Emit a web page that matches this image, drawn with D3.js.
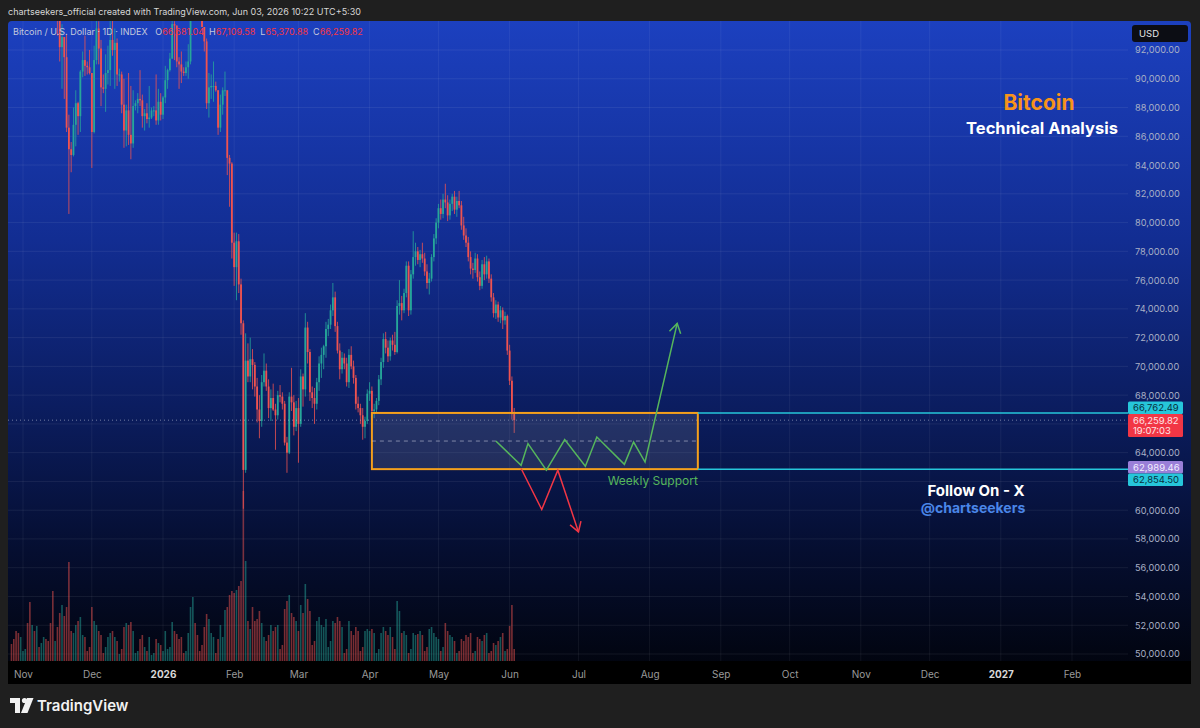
<!DOCTYPE html>
<html>
<head>
<meta charset="utf-8">
<script src="https://cdn.jsdelivr.net/npm/d3@7"></script>
<style>
  body { margin: 0; background: #1f1f1f; }
  svg { display: block; font-family: Inter, "Noto Sans", sans-serif; }
</style>
</head>
<body>
<div id="chart"></div>
<script>
var firstDay = "2025-10-27";

// daily candles: [open, high, low, close] in thousands of USD
var ohlc = [
    // Oct 27 - 31
    [114.5,116.0,113.8,114.1],[114.1,116.1,112.2,112.9],[112.9,113.6,109.3,110.0],[110.0,111.5,106.3,108.3],[108.3,111.1,108.3,109.6],
    // Nov
    [109.6,110.6,109.4,110.1],[110.1,111.2,109.6,110.6],[110.6,110.8,105.3,106.5],[106.5,107.3,98.9,101.5],[101.5,104.5,98.9,103.9],
    [103.9,104.2,100.3,101.3],[101.3,104.0,99.3,103.3],[103.3,103.4,101.4,102.3],[102.3,105.0,101.4,104.7],[104.7,106.6,104.3,105.9],
    [105.9,107.5,102.5,103.0],[103.0,105.3,100.8,101.6],[101.6,104.1,98.0,99.7],[99.7,99.8,94.1,94.5],[94.5,96.8,94.5,95.5],
    [95.5,96.6,93.0,94.2],[94.2,96.0,91.2,92.2],[92.2,93.8,89.3,92.9],[92.9,92.9,88.6,91.5],[91.5,93.1,86.3,86.6],
    [86.6,87.5,80.6,85.1],[85.1,85.6,83.5,84.7],[84.7,88.0,84.6,86.8],[86.8,89.2,85.3,88.3],[88.3,88.4,86.1,87.4],
    [87.4,90.6,86.3,90.5],[90.5,91.9,90.1,91.3],[91.3,93.0,90.2,90.9],[90.9,91.2,90.3,90.8],[90.8,92.0,90.3,90.4],
    // Dec
    [90.4,90.4,83.8,86.3],[86.3,92.3,86.2,91.3],[91.3,94.1,91.0,93.5],[93.5,94.0,91.0,92.1],[92.1,92.7,88.1,89.4],
    [89.4,90.3,89.0,89.3],[89.3,91.7,87.7,90.4],[90.4,92.3,89.6,90.6],[90.6,94.6,89.5,92.7],[92.7,94.4,91.6,92.0],
    [92.0,93.5,89.3,92.5],[92.5,92.8,89.5,90.3],[90.3,90.7,89.8,90.3],[90.3,90.5,87.6,88.2],[88.2,90.0,85.2,86.4],
    [86.4,88.2,85.3,87.8],[87.8,90.4,85.4,86.1],[86.1,89.5,84.4,85.5],[85.5,89.2,85.2,88.1],[88.1,88.5,87.8,88.3],
    [88.3,89.0,87.6,88.6],[88.6,90.6,88.1,88.5],[88.5,88.9,86.6,87.4],[87.4,87.9,86.4,87.6],[87.6,88.3,86.9,87.2],
    [87.2,89.5,86.6,87.3],[87.3,88.0,87.2,87.8],[87.8,88.1,87.4,87.8],[87.8,90.3,86.8,87.1],[87.1,89.3,86.8,88.4],
    [88.4,89.0,87.1,87.5],
    // Jan
    [87.5,88.8,87.2,88.7],[88.7,90.9,88.3,89.9],[89.9,90.7,89.3,90.6],[90.6,91.8,90.5,91.4],[91.4,94.8,91.4,93.8],
    [93.8,94.0,91.3,93.7],[93.7,93.7,90.8,91.2],[91.2,91.5,89.3,91.0],[91.0,91.9,89.7,90.5],[90.5,90.8,90.2,90.4],
    [90.4,91.2,90.2,90.8],[90.8,92.4,90.0,91.2],[91.2,96.2,91.0,95.3],[95.3,97.9,94.8,97.0],[97.0,97.2,95.1,95.6],
    [95.6,95.8,94.3,95.5],[95.5,95.6,94.9,95.1],[95.1,95.4,93.6,93.6],[93.6,93.6,91.9,92.6],[92.6,92.8,87.9,88.3],
    [88.3,90.4,87.3,89.4],[89.4,90.3,88.6,89.5],[89.5,91.2,88.4,89.5],[89.5,89.8,89.1,89.2],[89.2,89.2,86.1,86.6],
    [86.6,88.9,86.3,88.2],[88.2,89.4,87.5,89.2],[89.2,90.5,88.8,89.2],[89.2,89.2,83.3,84.5],[84.5,84.7,81.1,84.1],
    [84.1,84.2,77.5,78.6],
    // Feb
    [78.6,79.3,75.6,76.9],[76.9,79.3,74.6,78.7],[78.7,79.2,75.1,75.7],[75.7,76.1,72.2,73.0],[73.0,73.2,60.1,62.8],
    [62.8,72.3,62.6,70.4],[70.4,71.6,68.9,69.3],[69.3,72.0,68.9,70.5],[70.5,71.2,68.4,70.1],[70.1,70.3,67.9,68.6],
    [68.6,69.2,66.1,67.0],[67.0,68.0,65.0,66.2],[66.2,69.4,65.8,68.9],[68.9,70.9,68.6,69.7],[69.7,70.2,68.3,68.6],
    [68.6,69.1,66.4,67.1],[67.1,68.4,66.2,67.8],[67.8,68.8,66.9,67.0],[67.0,67.4,64.2,66.6],[66.6,68.3,66.3,68.0],
    [68.0,68.7,67.5,67.9],[67.9,68.2,67.0,67.4],[67.4,67.6,64.5,64.7],[64.7,65.1,62.6,64.0],[64.0,68.2,63.9,67.9],
    [67.9,69.9,66.9,67.5],[67.5,68.0,65.2,65.8],[65.8,67.6,65.5,67.1],
    // Mar
    [67.1,67.8,63.3,66.0],[66.0,69.8,65.8,69.3],[69.3,69.5,67.2,68.4],[68.4,73.7,67.9,72.7],[72.7,73.1,70.2,71.0],
    [71.0,71.2,67.6,68.2],[68.2,68.6,67.1,67.8],[67.8,68.5,66.0,67.4],[67.4,69.2,67.0,68.9],[68.9,70.7,68.3,70.2],
    [70.2,71.3,69.2,70.8],[70.8,71.5,69.8,71.4],[71.4,73.1,70.6,72.6],[72.6,73.3,72.1,72.9],[72.9,74.3,72.6,73.9],
    [73.9,75.8,73.5,74.8],[74.8,75.2,72.4,72.8],[72.8,73.1,70.9,71.1],[71.1,71.6,69.1,69.8],[69.8,71.0,69.5,70.6],
    [70.6,70.9,69.8,70.2],[70.2,70.6,68.6,68.9],[68.9,71.2,68.5,70.8],[70.8,71.4,69.8,70.0],[70.0,70.4,68.8,69.2],
    [69.2,69.4,67.0,67.4],[67.4,67.9,66.8,67.1],[67.1,67.4,66.0,66.6],[66.6,67.1,64.9,65.8],[65.8,66.5,65.0,66.2],
    [66.2,68.4,66.0,68.1],
    // Apr
    [68.1,68.9,67.6,68.3],[68.3,68.6,66.5,66.9],[66.9,67.4,66.4,67.0],[67.0,67.8,66.8,67.6],[67.6,69.4,67.3,69.1],
    [69.1,70.6,68.7,70.3],[70.3,72.3,69.9,71.9],[71.9,72.4,70.9,71.3],[71.3,71.8,70.3,70.7],[70.7,72.0,70.4,71.8],
    [71.8,72.2,71.1,71.5],[71.5,72.4,70.8,71.0],[71.0,74.6,70.9,74.2],[74.2,76.0,73.6,74.4],[74.4,74.9,73.2,73.9],
    [73.9,75.4,73.7,75.1],[75.1,77.3,74.8,77.0],[77.0,77.3,73.5,73.9],[73.9,76.7,73.6,76.4],[76.4,79.4,76.1,77.6],
    [77.6,78.6,77.0,78.0],[78.0,78.3,77.1,77.4],[77.4,78.1,76.9,77.8],[77.8,78.6,77.2,77.5],[77.5,77.9,76.3,76.6],
    [76.6,77.1,75.4,75.8],[75.8,76.5,75.0,76.1],[76.1,77.8,75.9,77.6],[77.6,79.2,77.3,78.9],[78.9,80.3,78.5,80.0],
    // May
    [80.0,81.3,79.6,81.0],[81.0,81.6,80.2,80.6],[80.6,82.0,80.3,81.6],[81.6,82.7,81.0,81.4],[81.4,81.9,80.1,80.5],
    [80.5,81.6,80.2,81.3],[81.3,82.0,80.8,81.8],[81.8,82.2,80.6,80.9],[80.9,81.8,80.4,81.5],[81.5,82.2,81.0,81.2],
    [81.2,81.5,79.5,79.8],[79.8,80.4,78.8,79.1],[79.1,79.6,78.3,78.6],[78.6,79.0,77.3,77.6],[77.6,78.0,76.4,76.8],
    [76.8,77.2,76.1,76.7],[76.7,77.9,76.5,77.5],[77.5,77.8,75.9,76.2],[76.2,76.6,75.3,75.6],[75.6,77.4,75.4,77.1],
    [77.1,77.6,76.0,76.4],[76.4,77.7,76.1,77.3],[77.3,77.5,75.8,76.1],[76.1,76.4,74.5,74.8],[74.8,75.1,73.4,73.7],
    [73.7,74.6,73.3,74.3],[74.3,74.5,73.1,73.4],[73.4,74.2,73.0,73.9],[73.9,74.1,72.6,73.2],[73.2,73.8,72.9,73.5],
    [73.5,73.6,70.8,71.1],
    // Jun 1 - 3
    [71.1,71.5,68.7,69.0],[69.0,69.3,66.3,66.68104],[66.68104,67.10958,65.37088,66.25982]
];

// volume, relative units
var volume = [
    17,22,30,28,24,
    10,12,38,59,36,30,35,14,18,24,22,20,38,70,20,34,48,56,45,54,99,30,28,36,40,44,26,24,10,14,
    54,40,36,30,26,8,14,24,28,30,24,20,7,12,34,38,36,39,30,8,10,22,26,14,10,24,6,8,22,18,16,
    10,30,12,14,39,30,27,22,24,8,10,28,54,64,38,26,10,16,34,47,42,28,24,8,22,36,24,51,54,66,70,
    68,71,75,80,170,100,40,32,54,40,42,50,38,24,20,26,36,30,34,36,12,16,52,60,66,48,44,40,
    30,56,48,77,62,50,16,20,40,44,36,34,42,14,20,40,38,44,40,34,8,12,40,30,26,34,30,10,14,30,32,
    30,32,28,8,12,28,34,30,26,34,24,12,60,50,28,30,26,8,12,28,26,27,30,26,10,14,32,34,28,24,
    22,10,14,38,30,26,24,20,8,10,22,20,26,24,28,8,10,24,22,20,26,28,8,10,18,16,20,24,28,10,12,
    35,56,12
];

var priceTicks = [50000,52000,54000,56000,58000,60000,62000,64000,66000,68000,70000,
    72000,74000,76000,78000,80000,82000,84000,86000,88000,90000,92000];
var hiddenPriceLabels = [62000, 66000];

var monthTicks = ["2025-11-01","2025-12-01","2026-01-01","2026-02-01","2026-03-01","2026-04-01",
    "2026-05-01","2026-06-01","2026-07-01","2026-08-01","2026-09-01","2026-10-01","2026-11-01",
    "2026-12-01","2027-01-01","2027-02-01"];

var zoneDates = ["2026-04-02", "2026-08-22"];
var zonePrices = [66762.49, 62854.50];

var greenPath = [["2026-05-26",64810],["2026-06-06",63120],["2026-06-09",64630],["2026-06-17",62780],
    ["2026-06-25",64910],["2026-07-04",63050],["2026-07-09",65090],["2026-07-21",63190],
    ["2026-07-25",64740],["2026-07-30",63350],["2026-08-13",72990]];
var redPath = [["2026-06-06",62900],["2026-06-15",60050],["2026-06-22",62780],["2026-07-01",58490]];

var levelLabels = [
    { value: 66762.49, fill: "#26c6da", color: "#08303c" },
    { value: 66259.82, fill: "#f23645", color: "#ffe4e6", sub: "19:07:03" },
    { value: 62989.46, fill: "#9a7fd8", color: "#f3eefe" },
    { value: 62854.50, fill: "#26c6da", color: "#08303c" }
];

function init() {
    var w = 1200;
    var h = 728;
    var plot = { left: 8, right: 1128, top: 21, bottom: 661 };
    var panelRight = 1191;
    var panelBottom = 684;

    var parse = d3.utcParse("%Y-%m-%d");
    var day0 = parse(firstDay);
    var candles = ohlc.map(function(d, i) {
        return {
            date: d3.utcDay.offset(day0, i),
            o: d[0] * 1000, h: d[1] * 1000, l: d[2] * 1000, c: d[3] * 1000,
            v: volume[i] || 0
        };
    });
    var last = candles[candles.length - 1];

    var x = d3.scaleUtc()
        .domain([parse("2026-01-01"), parse("2027-02-01")])
        .range([163, 1072]);
    var y = d3.scaleLinear()
        .domain([50000, 92000])
        .range([654, 50]);
    var yVol = d3.scaleLinear()
        .domain([0, 100])
        .range([plot.bottom, plot.bottom - 100]);

    var svg = d3.select("#chart")
        .append("svg")
        .attr("width", w)
        .attr("height", h);

    var defs = svg.append("defs");
    var grad = defs.append("linearGradient")
        .attr("id", "bg")
        .attr("x1", 0).attr("y1", 0).attr("x2", 0).attr("y2", 1);
    [[0, "#1c40bf"], [0.33, "#122d92"], [0.58, "#0b1d60"], [0.8, "#050e30"], [1, "#01030a"]]
        .forEach(function(s) {
            grad.append("stop").attr("offset", s[0]).attr("stop-color", s[1]);
        });
    defs.append("clipPath").attr("id", "plotClip")
        .append("rect")
        .attr("x", plot.left).attr("y", plot.top)
        .attr("width", plot.right - plot.left)
        .attr("height", plot.bottom - plot.top);

    // header
    svg.append("text")
        .attr("x", 8).attr("y", 15)
        .attr("fill", "#d6d6d6")
        .style("font-size", "9px")
        .text("chartseekers_official created with TradingView.com, Jun 03, 2026 10:22 UTC+5:30");

    // panel
    svg.append("rect")
        .attr("x", plot.left).attr("y", plot.top)
        .attr("width", panelRight - plot.left)
        .attr("height", panelBottom - plot.top)
        .attr("rx", 4)
        .attr("fill", "url(#bg)");
    svg.append("rect")
        .attr("x", plot.left).attr("y", plot.bottom)
        .attr("width", panelRight - plot.left)
        .attr("height", panelBottom - plot.bottom)
        .attr("fill", "#000");

    // grid
    var grid = svg.append("g").attr("class", "grid");
    grid.selectAll(".hgrid")
        .data(priceTicks)
        .enter().append("line")
        .attr("x1", plot.left).attr("x2", plot.right)
        .attr("y1", function(d) { return y(d); })
        .attr("y2", function(d) { return y(d); })
        .attr("stroke", "rgba(255,255,255,0.07)");
    grid.selectAll(".vgrid")
        .data(monthTicks)
        .enter().append("line")
        .attr("x1", function(d) { return x(parse(d)); })
        .attr("x2", function(d) { return x(parse(d)); })
        .attr("y1", plot.top).attr("y2", plot.bottom)
        .attr("stroke", "rgba(255,255,255,0.06)");

    var chart = svg.append("g").attr("clip-path", "url(#plotClip)");
    var upColor = "#26a69a";
    var downColor = "#ef5350";

    // volume
    chart.append("g")
        .selectAll("rect")
        .data(candles)
        .enter().append("rect")
        .attr("x", function(d) { return x(d.date) - 0.8; })
        .attr("width", 1.6)
        .attr("y", function(d) { return yVol(d.v); })
        .attr("height", function(d) { return plot.bottom - yVol(d.v); })
        .attr("fill", function(d) { return d.c >= d.o ? upColor : downColor; })
        .attr("opacity", 0.5);

    // candles
    var candle = chart.append("g")
        .selectAll("g")
        .data(candles)
        .enter().append("g");
    candle.append("line")
        .attr("x1", function(d) { return x(d.date); })
        .attr("x2", function(d) { return x(d.date); })
        .attr("y1", function(d) { return y(d.h); })
        .attr("y2", function(d) { return y(d.l); })
        .attr("stroke", function(d) { return d.c >= d.o ? upColor : downColor; })
        .attr("stroke-width", 0.8);
    candle.append("rect")
        .attr("x", function(d) { return x(d.date) - 0.9; })
        .attr("width", 1.8)
        .attr("y", function(d) { return y(Math.max(d.o, d.c)); })
        .attr("height", function(d) { return Math.max(1, Math.abs(y(d.o) - y(d.c))); })
        .attr("fill", function(d) { return d.c >= d.o ? upColor : downColor; });

    // last price dotted line
    chart.append("line")
        .attr("x1", plot.left).attr("x2", plot.right)
        .attr("y1", y(last.c)).attr("y2", y(last.c))
        .attr("stroke", "rgba(200,205,225,0.55)")
        .attr("stroke-dasharray", "1,3");

    // support zone
    var zx0 = x(parse(zoneDates[0]));
    var zx1 = x(parse(zoneDates[1]));
    chart.append("rect")
        .attr("x", zx0).attr("y", y(zonePrices[0]))
        .attr("width", zx1 - zx0)
        .attr("height", y(zonePrices[1]) - y(zonePrices[0]))
        .attr("fill", "rgba(128,132,150,0.22)")
        .attr("stroke", "#f5a01c")
        .attr("stroke-width", 2);
    var zMid = (zonePrices[0] + zonePrices[1]) / 2;
    chart.append("line")
        .attr("x1", zx0).attr("x2", zx1)
        .attr("y1", y(zMid)).attr("y2", y(zMid))
        .attr("stroke", "rgba(190,195,215,0.6)")
        .attr("stroke-dasharray", "4,4");
    chart.selectAll(".level")
        .data(zonePrices)
        .enter().append("line")
        .attr("x1", zx1).attr("x2", plot.right)
        .attr("y1", function(d) { return y(d); })
        .attr("y2", function(d) { return y(d); })
        .attr("stroke", "#26c6da")
        .attr("stroke-width", 1.5);

    // scenario paths
    var line = d3.line()
        .x(function(d) { return x(parse(d[0])); })
        .y(function(d) { return y(d[1]); });

    function arrowHead(pts) {
        var a = pts[pts.length - 2], b = pts[pts.length - 1];
        var ax = x(parse(a[0])), ay = y(a[1]), bx = x(parse(b[0])), by = y(b[1]);
        var ang = Math.atan2(by - ay, bx - ax);
        var len = 11, spread = 0.55;
        var p1 = [bx - len * Math.cos(ang - spread), by - len * Math.sin(ang - spread)];
        var p2 = [bx - len * Math.cos(ang + spread), by - len * Math.sin(ang + spread)];
        return "M" + p1 + "L" + [bx, by] + "L" + p2;
    }

    [[greenPath, "#56b65c"], [redPath, "#f23645"]].forEach(function(p) {
        chart.append("path")
            .datum(p[0])
            .attr("d", line)
            .attr("fill", "none")
            .attr("stroke", p[1])
            .attr("stroke-width", 1.5);
        chart.append("path")
            .attr("d", arrowHead(p[0]))
            .attr("fill", "none")
            .attr("stroke", p[1])
            .attr("stroke-width", 1.5);
    });

    svg.append("text")
        .attr("x", zx1).attr("y", y(zonePrices[1]) + 16)
        .attr("text-anchor", "end")
        .attr("fill", "#56b65c")
        .style("font-size", "12px")
        .text("Weekly Support");

    // legend
    var fmt = d3.format(",.2f");
    var legend = svg.append("text")
        .attr("x", 13).attr("y", 35)
        .style("font-size", "9px")
        .attr("fill", "#c4c9dc");
    legend.append("tspan").text("Bitcoin / U.S. Dollar · 1D · INDEX");
    [["O", last.o], ["H", last.h], ["L", last.l], ["C", last.c]].forEach(function(p, i) {
        legend.append("tspan").attr("dx", i === 0 ? 8 : 5).text(p[0]);
        legend.append("tspan").attr("fill", "#f23645").text(fmt(p[1]));
    });

    // annotations
    svg.append("text")
        .attr("x", 1039).attr("y", 110)
        .attr("text-anchor", "middle")
        .attr("fill", "#f7931a")
        .style("font-size", "21px").style("font-weight", "700")
        .text("Bitcoin");
    svg.append("text")
        .attr("x", 1042).attr("y", 134)
        .attr("text-anchor", "middle")
        .attr("fill", "#ffffff")
        .style("font-size", "16.5px").style("font-weight", "700")
        .text("Technical Analysis");
    svg.append("text")
        .attr("x", 976).attr("y", 496)
        .attr("text-anchor", "middle")
        .attr("fill", "#ffffff")
        .style("font-size", "15px").style("font-weight", "700")
        .text("Follow On - X");
    svg.append("text")
        .attr("x", 973).attr("y", 513)
        .attr("text-anchor", "middle")
        .attr("fill", "#4a86e8")
        .style("font-size", "14px").style("font-weight", "700")
        .text("@chartseekers");

    // price axis
    var yAxis = d3.axisRight(y)
        .tickValues(priceTicks.filter(function(d) { return hiddenPriceLabels.indexOf(d) < 0; }))
        .tickFormat(fmt)
        .tickSize(0)
        .tickPadding(7);
    var ya = svg.append("g")
        .attr("transform", "translate(" + plot.right + ",0)")
        .call(yAxis);
    ya.select(".domain").remove();
    ya.selectAll("text")
        .attr("fill", "#a9b0c6")
        .style("font-size", "9.2px")
        .style("font-family", "Inter, sans-serif");

    svg.append("rect")
        .attr("x", 1132).attr("y", 25)
        .attr("width", 56).attr("height", 17)
        .attr("rx", 3)
        .attr("fill", "#0c0d14");
    svg.append("text")
        .attr("x", 1139).attr("y", 37)
        .attr("fill", "#e6e6e6")
        .style("font-size", "9.5px")
        .text("USD");

    // level labels on the price axis, pushed apart where they overlap
    // (the live-price label shares the shift, others give way downward)
    var labels = levelLabels.map(function(d) {
        return { d: d, cy: y(d.value), hgt: d.sub ? 23 : 12.5 };
    }).sort(function(a, b) { return a.cy - b.cy; });
    for (var i = 1; i < labels.length; i++) {
        var p = labels[i - 1], q = labels[i];
        var need = (p.hgt + q.hgt) / 2;
        var gap = q.cy - p.cy;
        if (gap < need) {
            var share = (p.d.sub || q.d.sub) ? 0.5 : 0;
            p.cy -= (need - gap) * share;
            q.cy += (need - gap) * (1 - share);
        }
    }
    var lab = svg.append("g").selectAll("g")
        .data(labels)
        .enter().append("g")
        .attr("transform", function(d) { return "translate(" + plot.right + "," + (d.cy - d.hgt / 2) + ")"; });
    lab.append("rect")
        .attr("width", 55)
        .attr("height", function(d) { return d.hgt; })
        .attr("rx", 1.5)
        .attr("fill", function(d) { return d.d.fill; });
    lab.append("text")
        .attr("x", 5).attr("y", 9.8)
        .attr("fill", function(d) { return d.d.color; })
        .style("font-size", "9.5px")
        .text(function(d) { return fmt(d.d.value); });
    lab.filter(function(d) { return d.d.sub; })
        .append("text")
        .attr("x", 5).attr("y", 20)
        .attr("fill", function(d) { return d.d.color; })
        .style("font-size", "9.5px")
        .text(function(d) { return d.d.sub; });

    // time axis
    var xAxis = d3.axisBottom(x)
        .tickValues(monthTicks.map(parse))
        .tickFormat(function(d) { return d.getUTCMonth() === 0 ? d3.utcFormat("%Y")(d) : d3.utcFormat("%b")(d); })
        .tickSize(0)
        .tickPadding(10);
    var xa = svg.append("g")
        .attr("transform", "translate(0," + plot.bottom + ")")
        .call(xAxis);
    xa.select(".domain").remove();
    xa.selectAll("text")
        .attr("fill", function(d) { return d.getUTCMonth() === 0 ? "#d8d8d8" : "#9a9a9a"; })
        .style("font-weight", function(d) { return d.getUTCMonth() === 0 ? "700" : "400"; })
        .style("font-size", "10px")
        .style("font-family", "Inter, sans-serif");

    // TradingView logo
    var logo = svg.append("g").attr("fill", "#f2f2f2");
    logo.append("path").attr("d", "M10,698 H20 V713 H15 V703 H10 Z");
    logo.append("circle").attr("cx", 24.5).attr("cy", 700.5).attr("r", 2.6);
    logo.append("path").attr("d", "M27,698 H33.5 L27.5,713 H21 Z");
    logo.append("text")
        .attr("x", 37).attr("y", 711)
        .style("font-size", "15px").style("font-weight", "600")
        .text("TradingView");
}

window.onload = init;
</script>
</body>
</html>
